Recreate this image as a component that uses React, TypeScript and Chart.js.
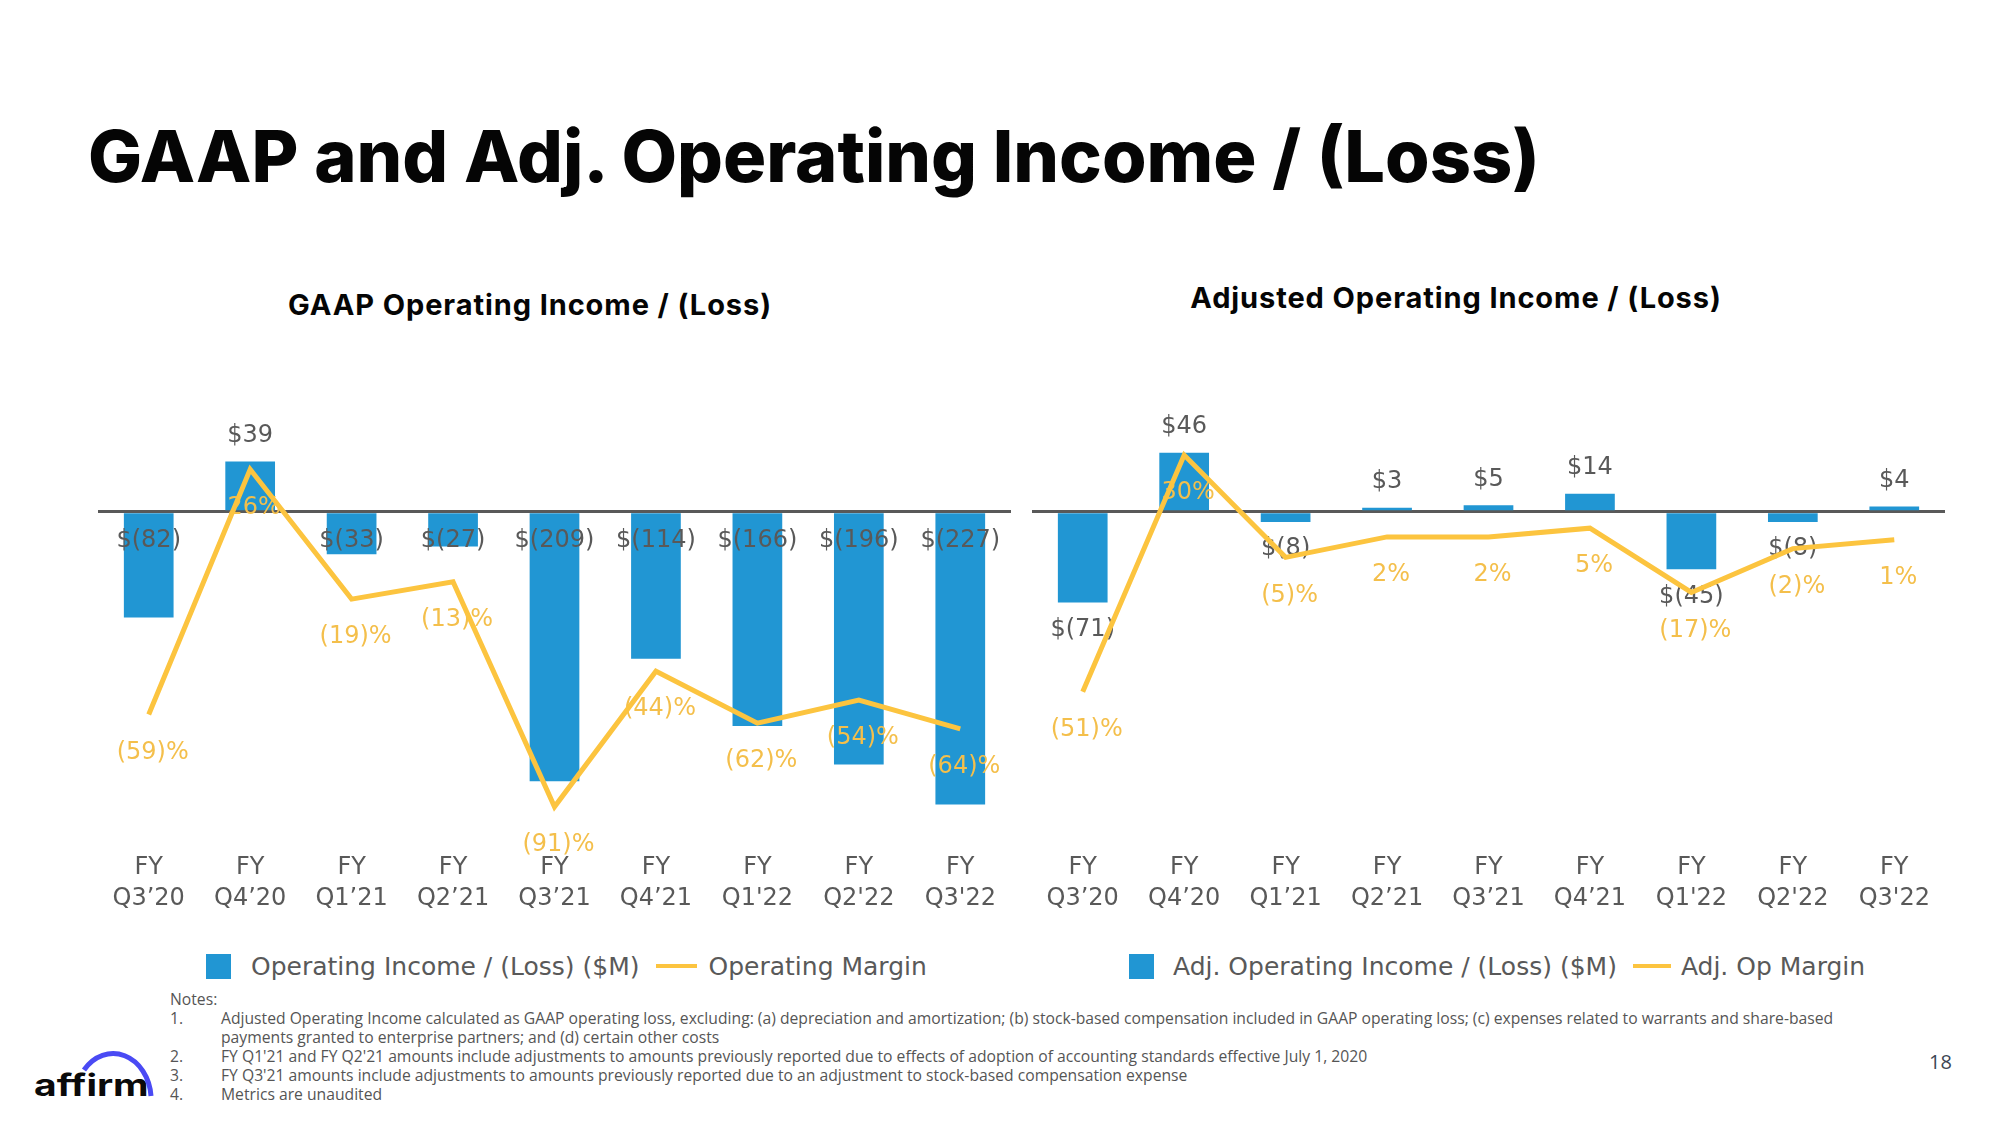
import React, { useEffect, useRef } from "react";
import { Chart, registerables } from "chart.js";

Chart.register(...registerables);

// ---------- DATA ----------
const categories: string[][] = [
  ["FY", "Q3’20"],
  ["FY", "Q4’20"],
  ["FY", "Q1’21"],
  ["FY", "Q2’21"],
  ["FY", "Q3’21"],
  ["FY", "Q4’21"],
  ["FY", "Q1'22"],
  ["FY", "Q2'22"],
  ["FY", "Q3'22"],
];
const gaapIncome = [-82, 39, -33, -27, -209, -114, -166, -196, -227];
const gaapMargin = [-59, 26, -19, -13, -91, -44, -62, -54, -64];
const adjIncome = [-71, 46, -8, 3, 5, 14, -45, -8, 4];
const adjMargin = [-51, 30, -5, 2, 2, 5, -17, -2, 1];

const notes = [
  "Adjusted Operating Income calculated as GAAP operating loss, excluding: (a) depreciation and amortization; (b) stock-based compensation included in GAAP operating loss; (c) expenses related to warrants and share-based\npayments granted to enterprise partners; and (d) certain other costs",
  "FY Q1'21 and FY Q2'21 amounts include adjustments to amounts previously reported due to effects of adoption of accounting standards effective July 1, 2020",
  "FY Q3'21 amounts include adjustments to amounts previously reported due to an adjustment to stock-based compensation expense",
  "Metrics are unaudited",
];

// ---------- STYLE ----------
const BLUE = "#2196D3";
const YELLOW = "#FCC43F";
const YELLOW_TEXT = "#F4BF4B";
const GRAY = "#595959";
const LABEL_FONT = '24px "DejaVu Sans"';

const fmtMoney = (v: number) => (v < 0 ? `$(${-v})` : `$${v}`);
const fmtPct = (v: number) => (v < 0 ? `(${-v})%` : `${v}%`);

const labelPlugin = {
  id: "valueLabels",
  afterDatasetDraw(chart: any, args: any, opts: any) {
    if (args.index !== 1) return;
    const ctx = chart.ctx;
    const barMeta = chart.getDatasetMeta(1);
    const lineMeta = chart.getDatasetMeta(0);
    const zero = chart.scales.y.getPixelForValue(0);
    const barData = chart.data.datasets[1].data as number[];
    const lineData = chart.data.datasets[0].data as number[];
    ctx.save();
    ctx.font = LABEL_FONT;
    ctx.textAlign = "center";
    ctx.textBaseline = "middle";
    ctx.fillStyle = GRAY;
    barMeta.data.forEach((el: any, i: number) => {
      const v = barData[i];
      let y: number;
      if (v >= 0) y = el.y - opts.posGap;
      else y = opts.negAtBase ? zero + opts.negGap : el.y + opts.negGap;
      ctx.fillText(fmtMoney(v), el.x, y);
    });
    ctx.fillStyle = YELLOW_TEXT;
    lineMeta.data.forEach((pt: any, i: number) => {
      ctx.fillText(fmtPct(lineData[i]), pt.x + 4, pt.y + opts.marginGap);
    });
    ctx.restore();
  },
};

type PanelProps = {
  left: number;
  income: number[];
  margin: number[];
  yMin: number;
  yMax: number;
  y1Min: number;
  y1Max: number;
  negAtBase: boolean;
  negGap: number;
};

const CANVAS_TOP = 370;
const CANVAS_W = 913;
const CANVAS_H = 550;

function Panel(p: PanelProps) {
  const ref = useRef<HTMLCanvasElement>(null);
  useEffect(() => {
    if (!ref.current) return;
    const chart = new Chart(ref.current, {
      type: "bar",
      data: {
        labels: categories,
        datasets: [
          {
            type: "line",
            data: p.margin,
            yAxisID: "y1",
            borderColor: YELLOW,
            borderWidth: 5,
            pointRadius: 0,
            tension: 0,
            order: 0,
          } as any,
          {
            type: "bar",
            data: p.income,
            yAxisID: "y",
            backgroundColor: BLUE,
            categoryPercentage: 1,
            barPercentage: 0.49,
            order: 1,
          },
        ],
      },
      options: {
        animation: false,
        responsive: false,
        devicePixelRatio: 1,
        layout: { padding: { top: 10, left: 0, right: 0, bottom: 0 } },
        plugins: {
          legend: { display: false },
          tooltip: { enabled: false },
          valueLabels: {
            posGap: 26,
            negGap: p.negGap,
            negAtBase: p.negAtBase,
            marginGap: 38,
          },
        } as any,
        scales: {
          x: {
            grid: { display: false, drawTicks: false },
            border: { display: false },
            ticks: {
              padding: 22,
              color: GRAY,
              font: { family: "DejaVu Sans", size: 24, lineHeight: 1.3 },
              maxRotation: 0,
              autoSkip: false,
            },
            afterFit: (s: any) => {
              s.height = 90;
              s.paddingLeft = 0;
              s.paddingRight = 0;
            },
          },
          y: {
            min: p.yMin,
            max: p.yMax,
            position: "left",
            grid: {
              color: (c: any) => (c.tick && c.tick.value === 0 ? GRAY : "rgba(0,0,0,0)"),
              lineWidth: 3,
              drawTicks: false,
            },
            border: { display: false },
            ticks: { display: false },
            afterBuildTicks: (s: any) => {
              s.ticks = [{ value: 0 }];
            },
            afterFit: (s: any) => {
              s.width = 0;
            },
          },
          y1: {
            min: p.y1Min,
            max: p.y1Max,
            display: false,
          },
        },
      },
      plugins: [labelPlugin],
    });
    return () => chart.destroy();
  }, []);
  return (
    <canvas
      ref={ref}
      width={CANVAS_W}
      height={CANVAS_H}
      style={{ position: "absolute", left: p.left, top: CANVAS_TOP, width: CANVAS_W, height: CANVAS_H }}
    />
  );
}

function Legend(props: { left: number; barText: string; lineText: string; gap1: number; lineW: number; gap2: number; gap3: number }) {
  return (
    <div
      style={{
        position: "absolute",
        left: props.left,
        top: 948,
        height: 36,
        display: "flex",
        alignItems: "center",
        fontFamily: "DejaVu Sans",
        fontSize: 25,
        color: GRAY,
        whiteSpace: "nowrap",
      }}
    >
      <div style={{ width: 25, height: 25, background: BLUE }} />
      <span style={{ marginLeft: props.gap1 }}>{props.barText}</span>
      <div style={{ width: props.lineW, height: 4, background: YELLOW, marginLeft: props.gap2 }} />
      <span style={{ marginLeft: props.gap3 }}>{props.lineText}</span>
    </div>
  );
}

const subtitleStyle: React.CSSProperties = {
  position: "absolute",
  transform: "translateX(-50%)",
  fontFamily: "Inter",
  fontWeight: 700,
  fontSize: 29,
  lineHeight: "29px",
  letterSpacing: 0.9,
  color: "#050505",
  whiteSpace: "nowrap",
};

export default function App() {
  return (
    <div
      style={{
        position: "absolute",
        left: 0,
        top: 0,
        width: 2000,
        height: 1125,
        background: "#fff",
        overflow: "hidden",
      }}
    >
      <div
        style={{
          position: "absolute",
          left: 88,
          top: 120,
          fontFamily: "Inter",
          fontWeight: 800,
          fontSize: 72,
          lineHeight: "72px",
          color: "#050505",
          whiteSpace: "nowrap",
          letterSpacing: 0,
        }}
      >
        GAAP and Adj. Operating Income / (Loss)
      </div>
      <div style={{ ...subtitleStyle, left: 530, top: 290 }}>GAAP Operating Income / (Loss)</div>
      <div style={{ ...subtitleStyle, left: 1456, top: 283 }}>Adjusted Operating Income / (Loss)</div>

      <Panel
        left={98}
        income={gaapIncome}
        margin={gaapMargin}
        yMin={-246.7}
        yMax={102.1}
        y1Min={-99.06}
        y1Max={56.97}
        negAtBase={true}
        negGap={29}
      />
      <Panel
        left={1032}
        income={adjIncome}
        margin={adjMargin}
        yMin={-248.7}
        yMax={102.9}
        y1Min={-98.3}
        y1Max={55.7}
        negAtBase={false}
        negGap={27}
      />

      <Legend left={206} barText="Operating Income / (Loss) ($M)" lineText="Operating Margin" gap1={20} lineW={41} gap2={16} gap3={12} />
      <Legend left={1129} barText="Adj. Operating Income / (Loss) ($M)" lineText="Adj. Op Margin" gap1={19} lineW={38} gap2={16} gap3={10} />

      <div
        style={{
          position: "absolute",
          left: 170,
          top: 990,
          fontFamily: "Open Sans",
          fontSize: 15.7,
          lineHeight: "19px",
          color: "#555",
        }}
      >
        <div>Notes:</div>
        {notes.map((n, i) => (
          <div key={i} style={{ display: "flex" }}>
            <div style={{ width: 51 }}>{i + 1}.</div>
            <div style={{ whiteSpace: "pre" }}>{n}</div>
          </div>
        ))}
      </div>

      <div
        style={{
          position: "absolute",
          left: 34,
          top: 1067,
          fontFamily: "Inter",
          fontWeight: 700,
          fontSize: 30,
          lineHeight: "36px",
          color: "#0a0a0a",
          transform: "scaleX(1.3)",
          transformOrigin: "left center",
        }}
      >
        affirm
      </div>
      <svg style={{ position: "absolute", left: 0, top: 1030 }} width={200} height={90}>
        <path d="M 84 40 A 38 46 0 0 1 151 66" fill="none" stroke="#4A4AF4" strokeWidth={5} />
      </svg>

      <div style={{ position: "absolute", left: 1929, top: 1050, fontFamily: "Open Sans", fontSize: 20, lineHeight: "24px", color: "#3c4654" }}>
        18
      </div>
    </div>
  );
}
